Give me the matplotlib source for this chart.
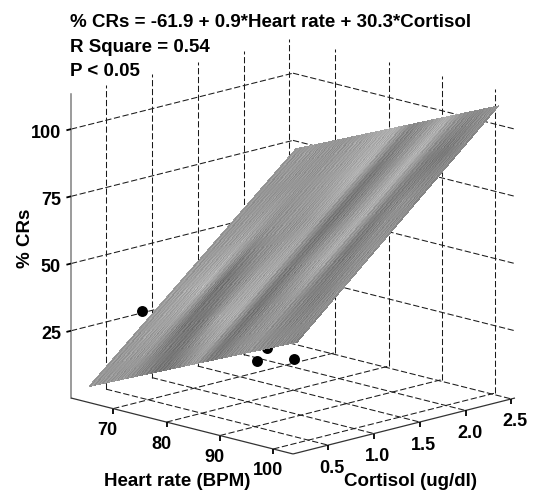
import numpy as np
import matplotlib
matplotlib.use("Agg")
import matplotlib.pyplot as plt
from mpl_toolkits.mplot3d import proj3d

hr_ticks = [70, 80, 90, 100]
cortisol_ticks = [0.5, 1.0, 1.5, 2.0, 2.5]
cortisol_labels = ["0.5", "1.0", "1.5", "2.0", "2.5"]
crs_ticks = [25, 50, 75, 100]

# visible observations
dots_hr = [71.2, 75.8, 78.5, 76.8]
dots_cortisol = [0.36, 1.35, 1.60, 1.40]
dots_crs = [35, 10, 10, 15]

hr_limits = (62.1, 103.7)
cortisol_limits = (0.117, 2.54)
crs_limits = (0, 113)

# fitted plane corners; rows = low/high cortisol, columns = low/high heart rate
plane_corner_hr = np.array([[62.5, 101.5], [63.5, 101.5]])
plane_corner_cortisol = np.array([[0.29, 0.29], [2.49, 2.49]])
plane_corner_crs = np.array([[3.0, 39.0], [73.0, 108.0]])

title_lines = ["% CRs = -61.9 + 0.9*Heart rate + 30.3*Cortisol", "R Square = 0.54", "P < 0.05"]

# plane shading: rows go with cortisol, columns with heart rate
plane_gray = np.array([
    [150, 150, 150, 135, 115, 130, 160, 120, 140, 150, 140, 140, 135],
    [150, 160, 160, 120, 120, 165, 175, 115, 140, 155, 130, 130, 150],
    [155, 165, 180, 115, 135, 160, 170, 120, 150, 175, 120, 140, 150],
    [150, 155, 165, 145, 150, 150, 165, 115, 145, 175, 125, 145, 140],
    [150, 150, 150, 150, 155, 165, 180, 120, 145, 180, 130, 120, 140],
    [150, 155, 150, 150, 160, 170, 175, 135, 150, 175, 145, 140, 150],
], dtype=float)
# fine streak detail running along the cortisol direction
streak_gray = [6, -9, 3, 12, -5, -12, 8, 2, -7, 10, -3, -10, 5, 13, -8, 1, 9, -11, -2, 7,
               -6, 11, -13, 4, 0, -8, 12, -4, 6, -10, 3, 9, -7, -1, 10, -12, 5, -5, 8, -9]
streak_fade = [1.0, 0.4, 1.2, 0.7, 1.3, 0.5, 1.1, 0.8, 1.4, 0.6, 1.0, 1.2, 0.5, 1.3, 0.8, 1.1, 0.6]

W, H = 534, 492
plt.rcParams["font.family"] = ["Liberation Sans", "DejaVu Sans"]
plt.rcParams["font.weight"] = "bold"
fig = plt.figure(figsize=(W / 100, H / 100), dpi=100, facecolor="white")
ax = fig.add_axes([0, 0, 1, 1], projection="3d", computed_zorder=False)
ax.set_proj_type("ortho")
ax.view_init(elev=14.6, azim=-45)
ax.set_box_aspect((1, 1, 1))
ax.set_xlim(*hr_limits, view_margin=0)
ax.set_ylim(*cortisol_limits, view_margin=0)
ax.set_zlim(*crs_limits, view_margin=0)
ax.set_axis_off()
ax.patch.set_alpha(0)

# place the axes so the floor corners land where the reference has them
M = ax.get_proj()
def view_xy(x, y, z):
    a, b, _ = proj3d.proj_transform(x, y, z, M)
    return float(a), float(b)
lx, ly = view_xy(hr_limits[0], cortisol_limits[0], 0)
rx, ry = view_xy(hr_limits[1], cortisol_limits[1], 0)
px_per_unit = (515 - 71) / (rx - lx)
x0v, x1v = ax.viewLim.intervalx
y0v, y1v = ax.viewLim.intervaly
side = (x1v - x0v) * px_per_unit
left_px = 71 - (lx - x0v) * px_per_unit
bottom_px = (H - 398) - (ly - y0v) * px_per_unit
ax.set_position([left_px / W, bottom_px / H, side / W, side / H])

hl, hh = hr_limits
cl, ch = cortisol_limits
zl, zh = crs_limits
dash = dict(color="#1a1a1a", lw=0.75, linestyle=(0, (6, 2.5)), zorder=1)
solid = dict(color="#333333", lw=0.9, zorder=1.5, solid_capstyle="butt")

# grid on floor and back walls
for h in hr_ticks:
    ax.plot([h, h], [cl, ch], [zl, zl], **dash)
    ax.plot([h, h], [ch, ch], [zl, zh], **dash)
for c in cortisol_ticks:
    ax.plot([hl, hh], [c, c], [zl, zl], **dash)
    ax.plot([hl, hl], [c, c], [zl, zh], **dash)
for z in crs_ticks:
    ax.plot([hl, hl], [cl, ch], [z, z], **dash)
    ax.plot([hl, hh], [ch, ch], [z, z], **dash)

# box edges and ticks
ax.plot([hl, hl], [cl, cl], [zl, zh], color="#808080", lw=1.1, zorder=1.5)
ax.plot([hl, hh], [cl, cl], [zl, zl], **solid)
ax.plot([hh, hh], [cl, ch], [zl, zl], **solid)
tick = dict(color="black", lw=1.3, zorder=1.6, solid_capstyle="butt")
for h in hr_ticks:
    ax.plot([h, h], [cl, cl], [zl, zl - 2.0], **tick)
for c in cortisol_ticks:
    ax.plot([hh, hh], [c, c], [zl, zl - 2.0], **tick)
for z in crs_ticks:
    ax.plot([hl, hl], [cl, cl - 0.05], [z, z], **tick)

ax.scatter(dots_hr, dots_cortisol, dots_crs, s=62, c="black", depthshade=False,
           linewidths=0, zorder=2)

# fitted plane
n_u, n_v = 160, 68
u_fine = np.linspace(0, 1, n_u + 1)
v_fine = np.linspace(0, 1, n_v + 1)
u_src = np.linspace(0, 1, plane_gray.shape[1])
v_src = np.linspace(0, 1, plane_gray.shape[0])
by_col = np.array([np.interp(u_fine[:-1], u_src, row) for row in plane_gray])
gray = np.array([np.interp(v_fine[:-1], v_src, by_col[:, j]) for j in range(n_u)]).T
streak = np.resize(np.array(streak_gray), n_u)
fade = np.resize(np.repeat(streak_fade, 3), n_v)
gray = gray + np.outer(fade, streak)
U, V = np.meshgrid(u_fine, v_fine)
def across_plane(corners):
    return ((1 - V) * ((1 - U) * corners[0, 0] + U * corners[0, 1])
            + V * ((1 - U) * corners[1, 0] + U * corners[1, 1]))
HR = across_plane(plane_corner_hr)
CO = across_plane(plane_corner_cortisol)
Z = across_plane(plane_corner_crs)
colors = np.clip(gray / 255.0, 0, 1)
fc = np.dstack([colors, colors, colors, np.ones_like(colors)])
surf = ax.plot_surface(HR, CO, Z, facecolors=fc, rstride=1, cstride=1, shade=False,
                       linewidth=0, antialiased=False, zorder=3)

# tick labels
M = ax.get_proj()
def label(txt, x, y, z, dx, dy, ha="center"):
    a, b = view_xy(x, y, z)
    ax.annotate(txt, xy=(a, b), xycoords="data", xytext=(dx, -dy), textcoords="offset pixels",
                ha=ha, va="center", fontsize=13, fontweight="bold", annotation_clip=False)
for h in hr_ticks:
    label(str(h), h, cl, 0, -5.5, 22)
for c, s in zip(cortisol_ticks, cortisol_labels):
    label(s, hh, c, 0, 4, 23)
for z in crs_ticks:
    label(str(z), hl, cl, z, -10, 4, ha="right")

def fig_text(x, y, s, **kw):
    fig.text(x / W, 1 - y / H, s, fontweight="bold", **kw)

for y, s in zip([22.5, 47.5, 72], title_lines):
    fig_text(70, y, s, fontsize=13.5, ha="left", va="center")
fig_text(177, 481.5, "Heart rate (BPM)", fontsize=13.5, ha="center", va="center")
fig_text(410, 481.5, "Cortisol (ug/dl)", fontsize=13.5, ha="center", va="center")
fig_text(25, 238, "% CRs", fontsize=13.5, rotation=90, ha="center", va="center")

fig.savefig("out.png", dpi=100, facecolor="white")
